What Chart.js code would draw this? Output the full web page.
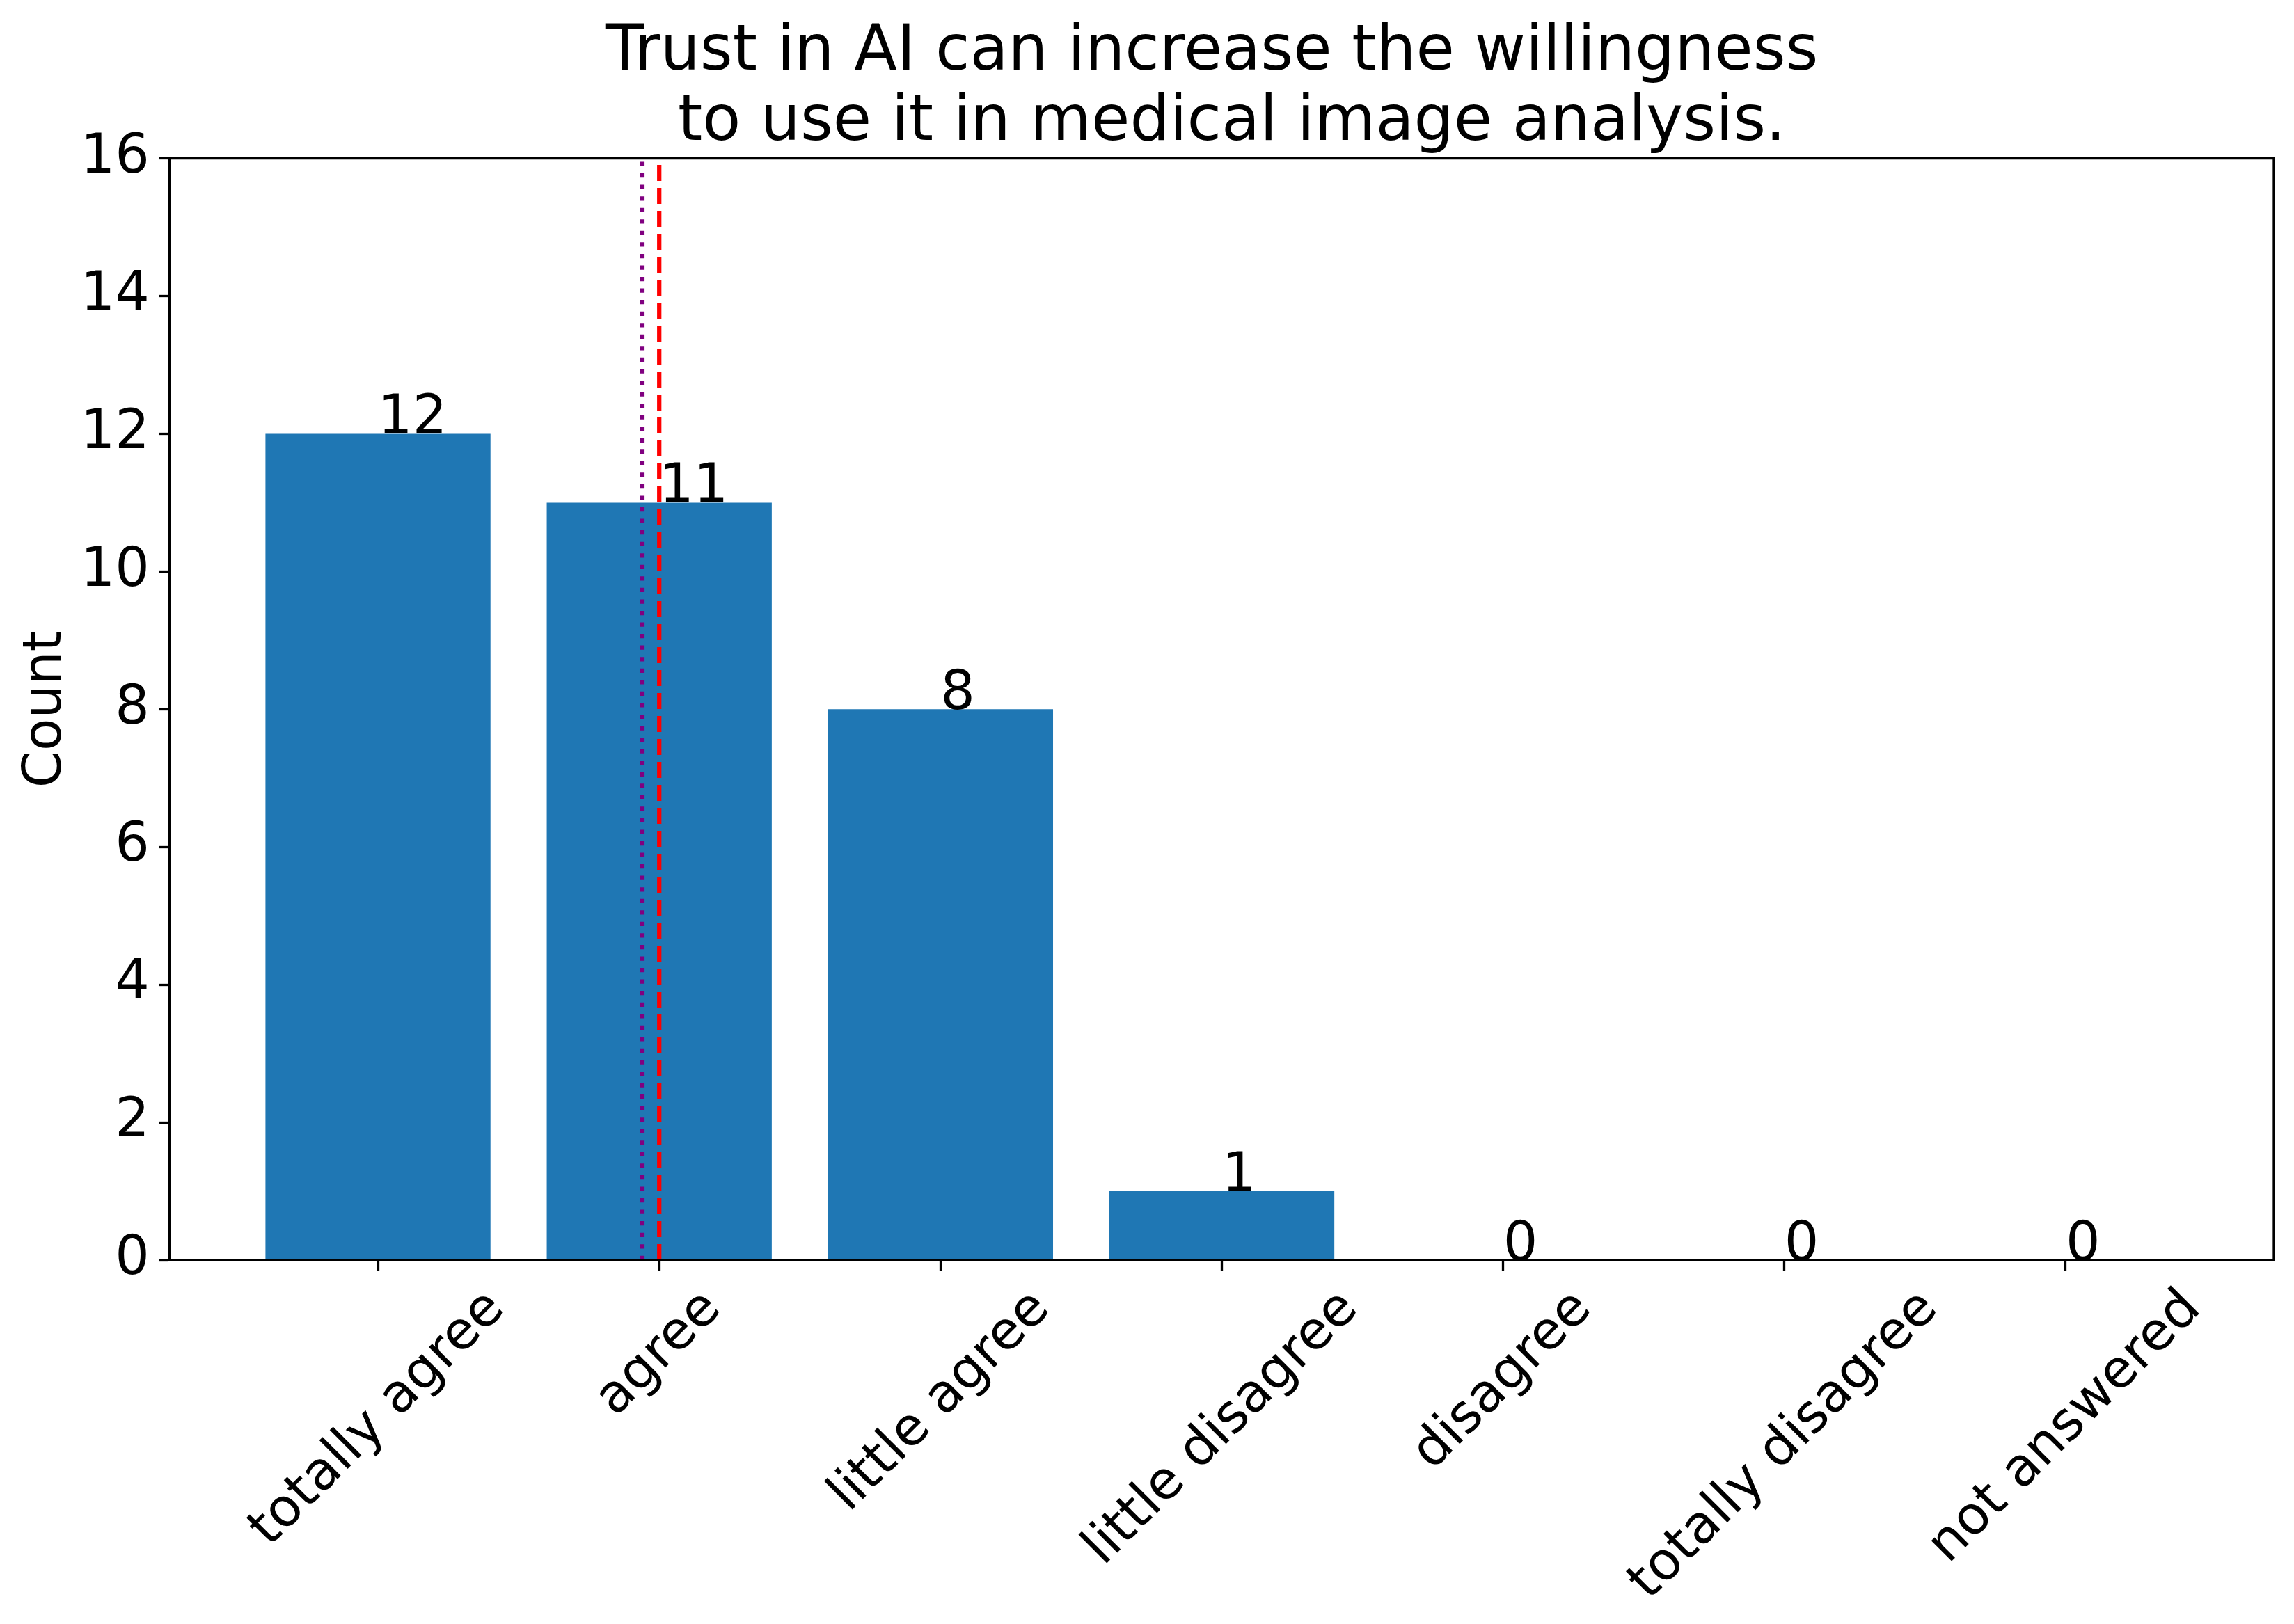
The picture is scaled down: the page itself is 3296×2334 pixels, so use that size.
<!DOCTYPE html>
<html>
<head>
<meta charset="utf-8">
<script src="https://cdn.jsdelivr.net/npm/chart.js@4/dist/chart.umd.min.js"></script>
<style>
    html, body { margin: 0; padding: 0; background: #fff; }
    canvas { display: block; }
</style>
</head>
<body>
<canvas id="trustChart" width="3296" height="2334"></canvas>
<script>
// answers to the survey question
const categories = ["totally agree", "agree", "little agree", "little disagree", "disagree", "totally disagree", "not answered"];
const counts = [12, 11, 8, 1, 0, 0, 0];
const yTicks = [0, 2, 4, 6, 8, 10, 12, 14, 16];

// mean and median answer position (index on the x axis)
const meanAnswer = 0.94;
const medianAnswer = 1;

const titleLines = ["Trust in AI can increase the willingness ", " to use it in medical image analysis."];

const FONT = "'DejaVu Sans', sans-serif";
const TICK_LEN = 15;
const LINE_W = 3.3;

// matplotlib-like frame around the plot area
const framePlugin = {
    id: "frame",
    afterDraw(chart) {
        const { ctx, chartArea } = chart;
        ctx.save();
        ctx.strokeStyle = "#000";
        ctx.lineWidth = LINE_W;
        ctx.strokeRect(chartArea.left, chartArea.top, chartArea.right - chartArea.left, chartArea.bottom - chartArea.top);
        ctx.restore();
    }
};

// numbers written above the bars, left aligned at bar centre
const valueLabels = {
    id: "valueLabels",
    afterDatasetsDraw(chart) {
        const ctx = chart.ctx;
        const meta = chart.getDatasetMeta(0);
        ctx.save();
        ctx.font = "78px " + FONT;
        ctx.fillStyle = "#000";
        ctx.textAlign = "left";
        ctx.textBaseline = "alphabetic";
        meta.data.forEach((bar, i) => {
            ctx.fillText(String(counts[i]), bar.x, bar.y);
        });
        ctx.restore();
    }
};

// rotated category labels, centred under the tick like matplotlib does
const rotatedLabels = {
    id: "rotatedLabels",
    afterDraw(chart) {
        const ctx = chart.ctx;
        const xScale = chart.scales.x;
        const size = 76;
        ctx.save();
        ctx.font = size + "px " + FONT;
        ctx.fillStyle = "#000";
        ctx.textAlign = "center";
        ctx.textBaseline = "middle";
        categories.forEach((label, i) => {
            const w = ctx.measureText(label).width;
            const h = size * 1.164;
            const boxH = (w + h) * Math.SQRT1_2;
            const cx = xScale.getPixelForValue(i);
            const cy = chart.chartArea.bottom + TICK_LEN + 12 + boxH / 2;
            ctx.save();
            ctx.translate(cx, cy);
            ctx.rotate(-Math.PI / 4);
            ctx.fillText(label, 0, 0);
            ctx.restore();
        });
        ctx.restore();
    }
};

const ctx = document.getElementById("trustChart").getContext("2d");

new Chart(ctx, {
    type: "bar",
    data: {
        datasets: [
            {
                label: "Count",
                data: counts.map((v, i) => ({ x: i, y: v })),
                backgroundColor: "#1f77b4",
                borderWidth: 0,
                barPercentage: 0.8,
                categoryPercentage: 1,
                order: 2
            },
            {
                type: "line",
                label: "mean",
                data: [{ x: meanAnswer, y: 0 }, { x: meanAnswer, y: 16 }],
                borderColor: "#800080",
                borderWidth: 6.25,
                borderDash: [6.25, 10.3],
                borderCapStyle: "butt",
                pointRadius: 0,
                fill: false,
                order: 1
            },
            {
                type: "line",
                label: "median",
                data: [{ x: medianAnswer, y: 0 }, { x: medianAnswer, y: 16 }],
                borderColor: "#ff0000",
                borderWidth: 6.25,
                borderDash: [23, 10],
                borderCapStyle: "butt",
                pointRadius: 0,
                fill: false,
                order: 0
            }
        ]
    },
    options: {
        responsive: false,
        animation: false,
        devicePixelRatio: 1,
        layout: { padding: { left: 0, right: 29, top: 0, bottom: 0 } },
        scales: {
            x: {
                type: "linear",
                min: -0.74,
                max: 6.74,
                offset: false,
                afterBuildTicks: (scale) => {
                    scale.ticks = categories.map((c, i) => ({ value: i }));
                },
                afterFit: (scale) => { scale.height = 523; },
                ticks: { display: false },
                grid: {
                    offset: false,
                    drawOnChartArea: false,
                    drawTicks: true,
                    tickLength: TICK_LEN,
                    tickWidth: LINE_W,
                    tickColor: "#000"
                },
                border: { display: true, color: "#000", width: LINE_W }
            },
            y: {
                min: 0,
                max: 16,
                afterBuildTicks: (scale) => {
                    scale.ticks = yTicks.map(v => ({ value: v }));
                },
                afterFit: (scale) => { scale.width = 244; },
                ticks: {
                    font: { family: FONT, size: 78 },
                    color: "#000",
                    padding: 14
                },
                grid: {
                    drawOnChartArea: false,
                    drawTicks: true,
                    tickLength: TICK_LEN,
                    tickWidth: LINE_W,
                    tickColor: "#000"
                },
                border: { display: true, color: "#000", width: LINE_W },
                title: {
                    display: true,
                    text: "Count",
                    color: "#000",
                    font: { family: FONT, size: 76, lineHeight: 1.2 },
                    padding: { top: 22, bottom: 0 }
                }
            }
        },
        plugins: {
            legend: { display: false },
            tooltip: { enabled: false },
            title: {
                display: true,
                fullSize: false,
                text: titleLines,
                color: "#000",
                font: { family: FONT, size: 90, weight: "normal", lineHeight: 1.12 },
                padding: { top: 26, bottom: 0 }
            }
        }
    },
    plugins: [valueLabels, framePlugin, rotatedLabels]
});
</script>
</body>
</html>
